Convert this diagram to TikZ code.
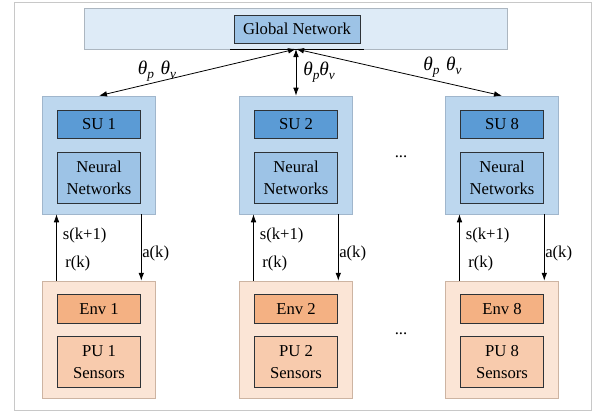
\documentclass[tikz,border=0pt]{standalone}
\usepackage{fontspec}
\setmainfont{Liberation Serif}
\usetikzlibrary{arrows.meta}

\definecolor{framegray}{RGB}{200,200,200}
\definecolor{gbgfill}{RGB}{222,235,247}
\definecolor{gbgdraw}{RGB}{172,182,192}
\definecolor{sufill}{RGB}{189,215,238}
\definecolor{sudraw}{RGB}{160,182,204}
\definecolor{sulabfill}{RGB}{91,155,213}
\definecolor{nnfill}{RGB}{157,195,230}
\definecolor{envfill}{RGB}{251,229,214}
\definecolor{envdraw}{RGB}{205,180,162}
\definecolor{envlabfill}{RGB}{244,177,131}
\definecolor{pufill}{RGB}{248,203,173}
\definecolor{labdraw}{RGB}{45,50,55}

\tikzset{
  txt/.style={font=\fontsize{12.5}{16}\selectfont, align=center, inner sep=0.75pt},
  thetatxt/.style={font=\fontsize{14.5}{16}\selectfont, inner sep=0.75pt},
  outersu/.style={draw=sudraw, fill=sufill, minimum width=84.75pt, minimum height=88.5pt, inner sep=0pt},
  outerenv/.style={draw=envdraw, fill=envfill, minimum width=84.75pt, minimum height=88.1pt, inner sep=0pt},
  labbox/.style={txt, draw=labdraw, minimum width=62.25pt},
  flow/.style={-{Latex[length=6pt,width=4.2pt]}, line width=0.6pt},
  dblflow/.style={{Latex[length=6pt,width=4.2pt]}-{Latex[length=6pt,width=4.2pt]}, line width=0.6pt}
}

\newcommand{\thsub}[1]{\raisebox{-3.5pt}{\fontsize{10}{10}\selectfont\itshape #1}}
\newcommand{\thp}{{\itshape θ}\thsub{p}}
\newcommand{\thv}{{\itshape θ}\thsub{v}}

\begin{document}
\begin{tikzpicture}[x=0.75pt,y=0.75pt,yscale=-1]
\useasboundingbox (0,0) rectangle (597,414);

%Outer frame
\draw [color=framegray, line width=0.6pt] (14,2) rectangle (591,410);

%Global network
\node [draw=gbgdraw, fill=gbgfill, minimum width=316.9pt, minimum height=30.4pt, inner sep=0pt] (gbg) at (295.75,28.75) {};
\node [labbox, fill=nnfill, minimum width=94.5pt, minimum height=21pt] (gn) at (297,29) {Global Network};
\draw [line width=0.6pt] (230,49) -- (364,49);
\coordinate (hub) at (296,49);

%Columns: agents and environments
\foreach \cx/\k [count=\i] in {99/1,296/2,502/8}{
  \node [outersu] (su\i) at (\cx,155) {};
  \node [labbox, fill=sulabfill, minimum height=21.4pt] (sulab\i) at (\cx,124.3) {SU \k};
  \node [labbox, fill=nnfill, minimum height=38.6pt] (nn\i) at (\cx,177.7) {Neural\\Networks};
  \node [outerenv] (env\i) at (\cx,339.75) {};
  \node [labbox, fill=envlabfill, minimum height=22pt] (envlab\i) at (\cx,308.7) {Env \k};
  \node [labbox, fill=pufill, minimum height=38pt] (pu\i) at (\cx,362) {PU \k\\Sensors};
  %Straight Lines
  \coordinate (up\i) at (\cx-42.5,0);
  \coordinate (dn\i) at (\cx+42.3,0);
  \draw [flow] (env\i.north -| up\i) -- (su\i.south -| up\i);
  \draw [flow] (su\i.south -| dn\i) -- (env\i.north -| dn\i);
  \draw [dblflow] (hub) -- (su\i.north);
  % Text Node
  \node [txt, anchor=west] (s\i) at (\cx-37.5,235) {s(k+1)};
  \node [txt, anchor=west] (r\i) at (\cx-35,263) {r(k)};
  \node [txt, anchor=west] (a\i) at (\cx+42,253.5) {a(k)};
}

% Text Node
\node [thetatxt] (th1) at (157,71) {\thp\,\,\thv};
\node [thetatxt, anchor=west] (th2) at (302,72) {\thp\thv};
\node [thetatxt] (th3) at (442.5,67) {\thp\,\,\thv};
\node [txt] (dots1) at (401,157) {...};
\node [txt] (dots2) at (401,334) {...};

\end{tikzpicture}
\end{document}
